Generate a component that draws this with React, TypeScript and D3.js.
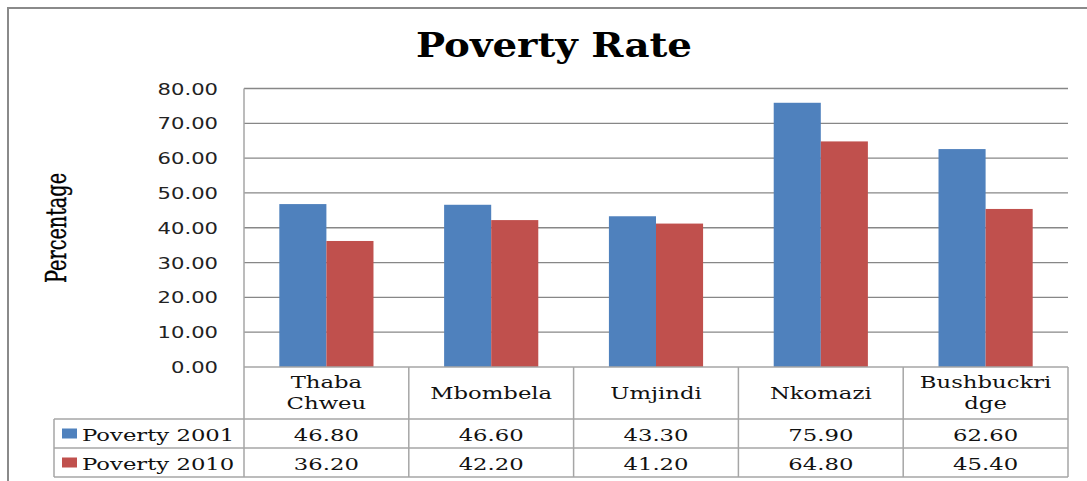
import React from "react";
import * as d3 from "d3";

const categories = ["Thaba Chweu", "Mbombela", "Umjindi", "Nkomazi", "Bushbuckridge"];
const categoryLines = [["Thaba", "Chweu"], ["Mbombela"], ["Umjindi"], ["Nkomazi"], ["Bushbuckri", "dge"]];
const seriesNames = ["Poverty 2001", "Poverty 2010"];
const poverty2001 = [46.8, 46.6, 43.3, 75.9, 62.6];
const poverty2010 = [36.2, 42.2, 41.2, 64.8, 45.4];
const yTicks = [0, 10, 20, 30, 40, 50, 60, 70, 80];
const colors = ["#4F81BD", "#C0504D"];

const W = 1087;
const H = 481;
const plotLeft = 244;
const plotRight = 1068;
const plotTop = 88.5;
const plotBottom = 367;
const rowCat = 419;
const row1 = 448;
const row2 = 477;
const legendLeft = 54;

export default function App() {
  const x0 = d3.scaleBand<string>().domain(categories).range([plotLeft, plotRight]).padding(0);
  const x1 = d3
    .scaleBand<string>()
    .domain(seriesNames)
    .range([0, x0.bandwidth()])
    .paddingInner(0)
    .paddingOuter(0.75);
  const y = d3.scaleLinear().domain([0, 80]).range([plotBottom, plotTop]);
  const seriesValues = [poverty2001, poverty2010];
  const fmt = d3.format(".2f");

  const serif = "'DejaVu Serif', serif";
  const sans = "'DejaVu Sans', Verdana, sans-serif";
  const sx = 1.3;
  const tableFont = 17.5;

  const colEdges = categories.map((c) => x0(c) as number).concat([plotRight]);

  return (
    <svg
      width={W}
      height={H}
      viewBox={`0 0 ${W} ${H}`}
      style={{ position: "absolute", left: 0, top: 0, display: "block", background: "#fff" }}
    >
      <rect x={0} y={0} width={W} height={H} fill="#fff" />
      {/* outer chart border */}
      <path d={`M8,${H} V8 H${W}`} fill="none" stroke="#8a8a8a" strokeWidth={2} />

      {/* title */}
      <text
        x={416}
        y={57}
        fontFamily={serif}
        fontWeight="bold"
        fontSize={34}
        textLength={276}
        lengthAdjust="spacingAndGlyphs"
        fill="#000"
      >
        Poverty Rate
      </text>

      {/* y axis label */}
      <text
        transform={`translate(66,228) rotate(-90) scale(1,1.35)`}
        textAnchor="middle"
        fontFamily={serif}
        fontSize={20}
        textLength={110}
        lengthAdjust="spacingAndGlyphs"
        stroke="#000"
        strokeWidth={0.3}
        fill="#000"
      >
        Percentage
      </text>

      {/* gridlines */}
      {yTicks.map((t) =>
        t === 0 ? null : (
          <line key={t} x1={plotLeft} x2={plotRight} y1={y(t)} y2={y(t)} stroke="#878787" strokeWidth={1.3} />
        )
      )}

      {/* y tick labels */}
      {yTicks.map((t) => (
        <text
          key={"yl" + t}
          transform={`translate(218,${y(t) + 6}) scale(1.32,1)`}
          textAnchor="end"
          fontFamily={sans}
          fontSize={16}
          fill="#222"
        >
          {fmt(t)}
        </text>
      ))}

      {/* bars */}
      {categories.map((c, i) => (
        <g key={c} transform={`translate(${x0(c)},0)`}>
          {seriesNames.map((s, j) => (
            <rect
              key={s}
              x={x1(s)}
              y={y(seriesValues[j][i])}
              width={x1.bandwidth()}
              height={plotBottom - y(seriesValues[j][i])}
              fill={colors[j]}
            />
          ))}
        </g>
      ))}

      {/* table lines */}
      <g stroke="#a6a6a6" strokeWidth={1.5} fill="none">
        <line x1={plotLeft} x2={plotRight} y1={plotBottom} y2={plotBottom} />
        <line x1={legendLeft} x2={plotRight} y1={rowCat} y2={rowCat} />
        <line x1={legendLeft} x2={plotRight} y1={row1} y2={row1} />
        <line x1={legendLeft} x2={plotRight} y1={row2} y2={row2} />
        <line x1={legendLeft} x2={legendLeft} y1={rowCat} y2={row2} />
        <line x1={plotLeft} x2={plotLeft} y1={plotTop} y2={row2} />
        {colEdges.slice(1).map((xe, k) => (
          <line key={k} x1={xe} x2={xe} y1={plotBottom} y2={row2} />
        ))}
      </g>

      {/* category labels */}
      {categories.map((c, i) => {
        const cx = (x0(c) as number) + x0.bandwidth() / 2;
        const lines = categoryLines[i];
        const baselines = lines.length === 2 ? [388, 409] : [399];
        return lines.map((ln, k) => (
          <text
            key={c + k}
            transform={`translate(${cx},${baselines[k]}) scale(${sx},1)`}
            textAnchor="middle"
            fontFamily={serif}
            fontSize={tableFont}
            fill="#111"
          >
            {ln}
          </text>
        ));
      })}

      {/* legend rows */}
      {seriesNames.map((s, j) => {
        const top = j === 0 ? rowCat : row1;
        const bottom = j === 0 ? row1 : row2;
        const mid = (top + bottom) / 2;
        return (
          <g key={s}>
            <rect x={62} y={mid - 5} width={15} height={10} fill={colors[j]} />
            <text
              transform={`translate(82,${mid + 7}) scale(${sx},1)`}
              fontFamily={serif}
              fontSize={tableFont}
              fill="#111"
            >
              {s}
            </text>
            {categories.map((c, i) => (
              <text
                key={c}
                transform={`translate(${(x0(c) as number) + x0.bandwidth() / 2},${mid + 7}) scale(${sx},1)`}
                textAnchor="middle"
                fontFamily={serif}
                fontSize={tableFont}
                fill="#111"
              >
                {fmt(seriesValues[j][i])}
              </text>
            ))}
          </g>
        );
      })}
    </svg>
  );
}
